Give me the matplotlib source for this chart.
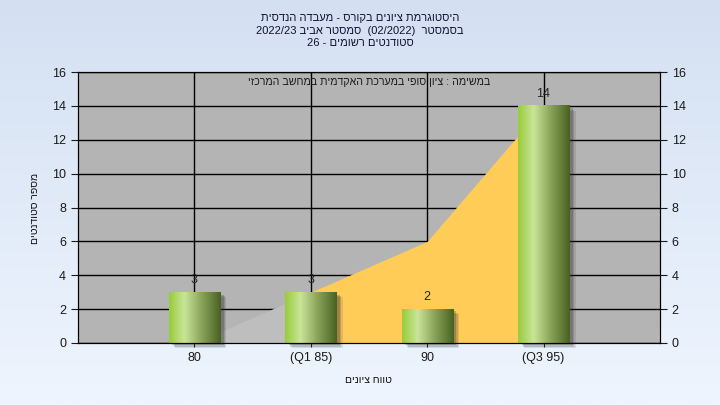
import matplotlib
matplotlib.use('Agg')
import matplotlib.pyplot as plt
import numpy as np
from matplotlib.colors import LinearSegmentedColormap

plt.rcParams['font.family'] = ['Liberation Sans', 'DejaVu Sans']

categories = ['80', '(Q1 85)', '90', '(Q3 95)']
counts = [3, 3, 2, 14]
area_vals = [0, 3, 6, 14]

title_lines = ['היסטוגרמת ציונים בקורס - מעבדה הנדסית',
               'בסמסטר  (02/2022)  סמסטר אביב 2022/23',
               'סטודנטים רשומים - 26']
inner_text = 'במשימה : ציון סופי במערכת האקדמית במחשב המרכזי'
ylabel = 'מספר סטודנטים'
xlabel = 'טווח ציונים'


def vis(s):
    # matplotlib has no bidi: build the right-to-left visual order by hand
    out = []
    for w in s.split(' '):
        if any('\u0590' <= c <= '\u05FF' for c in w):
            out.append(w[::-1])
        else:
            out.append(w)
    return ' '.join(out[::-1])


fig = plt.figure(figsize=(7.2, 4.05), dpi=100)

# background gradient
bg = fig.add_axes([0, 0, 1, 1], zorder=-10)
grad = np.linspace(0, 1, 256).reshape(-1, 1)
bg_cmap = LinearSegmentedColormap.from_list('bg', ['#D4E0F2', '#EEF5FE'])
bg.imshow(grad, aspect='auto', cmap=bg_cmap, extent=[0, 1, 0, 1])
bg.axis('off')

ax = fig.add_axes([0.1083, 0.1531, 0.8083, 0.669])
ax.set_facecolor('#B4B4B4')
x = np.arange(len(categories))
ax.set_axisbelow(True)
ax.grid(True, color='black', lw=1)

# area series: first segment grey, rest yellow
ax.fill_between(x[:2], 0, area_vals[:2], color='#BEBEBE', lw=0, zorder=1)
ax.fill_between(x[1:], 0, area_vals[1:], color='#FFCC58', lw=0, zorder=1.1)

# gradient bars with soft shadow
bar_cmap = LinearSegmentedColormap.from_list(
    'bar', [(0, '#98CB3B'), (0.3, '#C9E598'), (0.6, '#90A95E'), (1, '#486121')])
bw = 0.44
grad_h = np.linspace(0, 1, 256).reshape(1, -1)
for xi, v in zip(x, counts):
    for k, a in enumerate([0.12, 0.18, 0.25]):
        off = 0.055 - k * 0.012
        ax.add_patch(plt.Rectangle((xi - bw / 2 + off, -0.3 + k * 0.08), bw, v,
                                   color='#303030', alpha=a, lw=0, zorder=1.8,
                                   clip_on=False))
    ax.imshow(grad_h, aspect='auto', cmap=bar_cmap, zorder=2,
              extent=[xi - bw / 2, xi + bw / 2, 0, v])
    ax.text(xi, v + 0.35, str(v), ha='center', va='bottom', fontsize=9,
            color='#222222', zorder=3)

ax.set_xlim(-1, 4)
ax.set_ylim(0, 16)
ax.set_yticks(range(0, 17, 2))
ax.set_xticks(x)
ax.set_xticklabels(categories)

ax.text(1.5, 15.4, vis(inner_text), ha='center', va='center', fontsize=7.7,
        color='#1a1a1a', zorder=3)

ax.tick_params(axis='y', length=5, labelsize=9, colors='#1a1a1a')
ax.tick_params(axis='x', length=3, labelsize=9, colors='#1a1a1a')
for s in ax.spines.values():
    s.set_color('black')

ax2 = ax.twinx()
ax2.set_ylim(0, 16)
ax2.set_yticks(range(0, 17, 2))
ax2.tick_params(axis='y', length=5, labelsize=9, colors='#1a1a1a')

for i, line in enumerate(title_lines):
    fig.text(0.5, 1 - (18 + i * 12.5) / 405, vis(line), ha='center',
             va='center', fontsize=8, color='#111133')

fig.text(35 / 720, 1 - 208 / 405, vis(ylabel), rotation=90, ha='center',
         va='center', fontsize=7.5, color='#111111')
fig.text(368 / 720, 1 - 380 / 405, vis(xlabel), ha='center', va='center',
         fontsize=7.5, color='#111111')

plt.savefig('out.png', dpi=100)
